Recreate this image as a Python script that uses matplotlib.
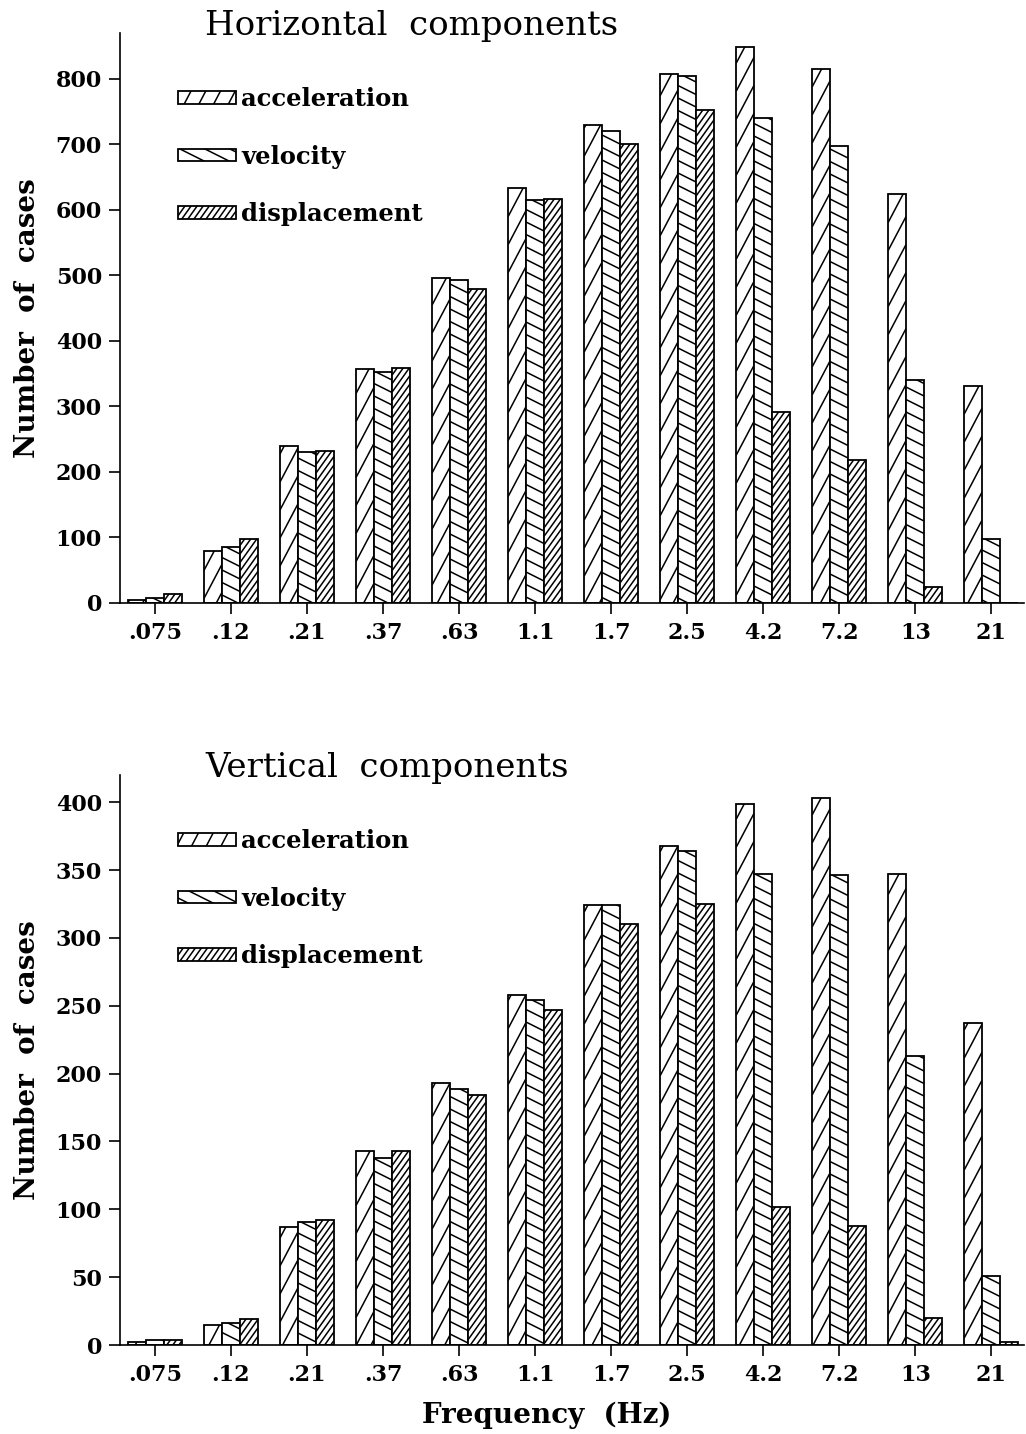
import numpy as np
import matplotlib
matplotlib.use("Agg")
import matplotlib.pyplot as plt
from matplotlib.collections import LineCollection
from matplotlib.transforms import IdentityTransform, Bbox

# frequency bands (Hz) and the three record types
freqs = [".075", ".12", ".21", ".37", ".63", "1.1", "1.7", "2.5", "4.2", "7.2", "13", "21"]
series = ["acceleration", "velocity", "displacement"]

# number of cases
horiz_acc = [4, 80, 240, 357, 496, 634, 730, 807, 849, 815, 625, 331]
horiz_vel = [8, 85, 230, 353, 493, 615, 721, 804, 741, 697, 340, 98]
horiz_disp = [13, 97, 232, 358, 479, 617, 701, 753, 291, 219, 25, 0]

vert_acc = [2.5, 14.5, 87, 143, 193, 258, 324, 368, 399, 403, 347, 237]
vert_vel = [3.5, 16.5, 91, 138, 189, 254, 324, 364, 347, 346, 213, 51]
vert_disp = [3.5, 19, 92, 143, 184, 247, 310, 325, 102, 88, 20, 2.5]

# hatch style per series: (slope in pixels, vertical spacing in pixels)
hatch_style = [(1.9, 28.0), (-0.5, 12.5), (1.4, 8.5)]

plt.rcParams['font.family'] = ['DejaVu Serif']
plt.rcParams['font.weight'] = 'bold'

W, H = 1026, 1434
fig = plt.figure(figsize=(W / 100, H / 100), dpi=100)
ax_top = fig.add_axes([120 / W, 1 - 603 / H, 904 / W, 570 / H])
ax_bot = fig.add_axes([120 / W, 1 - 1345 / H, 904 / W, 570 / H])


def hatch_box(bb, slope, step, parent, zorder=2):
    # slanted lines in pixel space, clipped to the box
    x0, y0, x1, y1 = bb.x0, bb.y0, bb.x1, bb.y1
    if x1 - x0 <= 0 or y1 - y0 <= 0:
        return
    cmin = min(y0 - slope * x0, y0 - slope * x1)
    cmax = max(y1 - slope * x0, y1 - slope * x1)
    cs = np.arange(np.ceil(cmin / step) * step, cmax + step, step)
    segs = [[(x0, slope * x0 + c), (x1, slope * x1 + c)] for c in cs]
    lc = LineCollection(segs, colors='k', linewidths=1.1,
                        transform=IdentityTransform(), zorder=zorder)
    if hasattr(parent, 'add_collection'):
        parent.add_collection(lc, autolim=False)
    else:
        parent.add_artist(lc)
    # set the clip after adding, the axes would replace it otherwise
    lc.set_clip_path(None)
    lc.set_clip_box(Bbox([[x0, y0], [x1, y1]]))
    lc.set_clip_on(True)


def draw_panel(ax, data, ymax, yticks, title):
    x = np.arange(len(freqs))
    width = 0.237
    ax.set_xlim(-0.46, 11.43)
    ax.set_ylim(0, ymax)
    bars = []
    for i, (vals, name) in enumerate(zip(data, series)):
        b = ax.bar(x + (i - 1) * width, vals, width, color='white',
                   edgecolor='black', linewidth=1.3, label=name, zorder=1)
        bars.append(b)
    for b, (slope, step) in zip(bars, hatch_style):
        for rect in b.patches:
            hatch_box(rect.get_window_extent(), slope, step, ax)

    ax.set_xticks(x, freqs)
    ax.set_yticks(yticks)
    for s in ['top', 'right']:
        ax.spines[s].set_visible(False)
    for s in ['left', 'bottom']:
        ax.spines[s].set_linewidth(1.2)
    ax.tick_params(direction='out', length=8, width=1.2, labelsize=16)
    ax.tick_params(axis='y', pad=5)
    ax.tick_params(axis='x', pad=6)
    ax.set_ylabel('Number  of  cases', fontsize=20, fontweight='bold', va='center')
    ax.yaxis.set_label_coords(-0.102, 0.5)
    ax.text(0.094, 1 + 7 / 570, title, transform=ax.transAxes, fontsize=24.5,
            fontweight='normal', ha='left', va='center')
    leg = ax.legend(loc='upper left', bbox_to_anchor=(58 / 904, 0.905),
                    frameon=False, fontsize=17.5, handlelength=2.4,
                    handleheight=0.42, handletextpad=0.2, labelspacing=1.38,
                    borderpad=0, borderaxespad=0)
    return leg


leg_top = draw_panel(ax_top, [horiz_acc, horiz_vel, horiz_disp], 870,
                     range(0, 801, 100), 'Horizontal  components')
leg_bot = draw_panel(ax_bot, [vert_acc, vert_vel, vert_disp], 420,
                     range(0, 401, 50), 'Vertical  components')

ax_bot.set_xlabel('Frequency  (Hz)', fontsize=20, fontweight='bold', va='center')
ax_bot.xaxis.set_label_coords(0.472, -70 / 570)

# hatch the legend keys once their positions are known
fig.canvas.draw()
for leg in [leg_top, leg_bot]:
    for p, (slope, step) in zip(leg.get_patches(), hatch_style):
        hatch_box(p.get_window_extent(), slope, step, fig, zorder=6)

fig.savefig('out.png', dpi=100)
